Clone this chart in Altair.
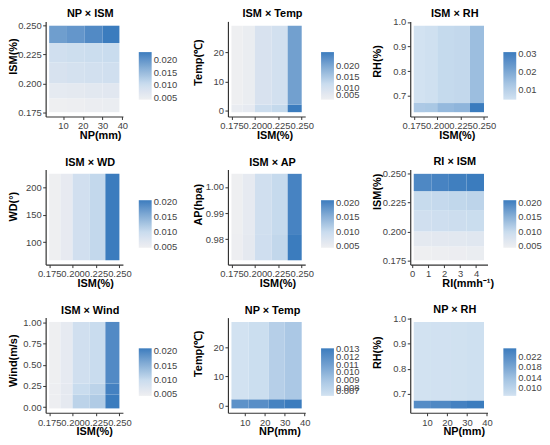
import altair as alt
import pandas as pd

FONT = "Liberation Sans"

# ---- bin edges (data ranges of each heat-map axis) ----
ISM_EDGES = [0.175, 0.187, 0.200, 0.218, 0.235, 0.250]
NP_EDGES = [3.0, 12.0, 21.0, 30.0, 38.5]
NP2_EDGES = [3.4, 12.0, 22.0, 30.0, 38.5]
TEMP_EDGES = [-0.4, 2.2, 29.0]
TEMP2_EDGES = [-0.9, 2.2, 28.6]
RH_EDGES = [0.634, 0.671, 0.985]
RH2_EDGES = [0.641, 0.673, 0.987]
WD_EDGES = [67.0, 225.0]
AP_EDGES = [0.972, 0.982, 1.005]
RI_EDGES = [0.1, 1.2, 2.3, 3.4, 4.5]
WIND_EDGES = [-0.016, 0.15, 0.28, 1.01]

# ---- cell values: rows listed bottom -> top, columns left -> right ----
NP_ISM = [
    [0.0043, 0.0046, 0.0048, 0.0050],
    [0.0060, 0.0063, 0.0066, 0.0068],
    [0.0085, 0.0090, 0.0093, 0.0095],
    [0.0095, 0.0100, 0.0103, 0.0106],
    [0.0190, 0.0200, 0.0215, 0.0233],
]
ISM_TEMP = [
    [0.0060, 0.0068, 0.0115, 0.0125, 0.0260],
    [0.0050, 0.0058, 0.0095, 0.0105, 0.0210],
]
ISM_RH = [
    [0.0120, 0.0125, 0.0160, 0.0170, 0.0310],
    [0.0045, 0.0050, 0.0070, 0.0075, 0.0150],
]
ISM_WD = [
    [0.0048, 0.0060, 0.0090, 0.0105, 0.0205],
]
ISM_AP = [
    [0.0047, 0.0060, 0.0092, 0.0105, 0.0208],
    [0.0045, 0.0058, 0.0090, 0.0102, 0.0200],
]
RI_ISM = [
    [0.0044, 0.0046, 0.0048, 0.0050],
    [0.0060, 0.0062, 0.0064, 0.0066],
    [0.0090, 0.0092, 0.0095, 0.0097],
    [0.0100, 0.0102, 0.0105, 0.0108],
    [0.0195, 0.0200, 0.0205, 0.0208],
]
ISM_WIND = [
    [0.0046, 0.0060, 0.0110, 0.0120, 0.0211],
    [0.0046, 0.0060, 0.0100, 0.0110, 0.0205],
    [0.0044, 0.0058, 0.0090, 0.0100, 0.0195],
]
NP_TEMP = [
    [0.0118, 0.0120, 0.0127, 0.0131],
    [0.0070, 0.0073, 0.0083, 0.0088],
]
NP_RH = [
    [0.0225, 0.0232, 0.0245, 0.0255],
    [0.0068, 0.0070, 0.0071, 0.0073],
]

# ---- tick labels ----
ISM_TICKS = [0.175, 0.200, 0.225, 0.250]
NP_TICKS = [10, 20, 30, 40]
TEMP_TICKS = [0, 10, 20]
RH_TICKS = [0.7, 0.8, 0.9, 1.0]
WD_TICKS = [100, 150, 200]
AP_TICKS = [0.98, 0.99, 1.00]
RI_TICKS = [0, 1, 2, 3, 4]
WIND_TICKS = [0.0, 0.25, 0.5, 0.75, 1.0]
LEG_A = [0.005, 0.010, 0.015, 0.020]
LEG_RH = [0.01, 0.02, 0.03]
LEG_NT = [0.007, 0.008, 0.009, 0.010, 0.011, 0.012, 0.013]
LEG_NR = [0.010, 0.014, 0.018, 0.022]

# colour ramps (low -> high)
RAMP_GRAY = ["#EEEFF1", "#C9DCEE", "#86AED6", "#3B7CBE"]
RAMP_BLUE = ["#D2E2F1", "#A6C5E3", "#6F9ECF", "#3B7CBE"]


def cells(xe, ye, vals):
    rows = []
    for j in range(len(ye) - 1):
        for i in range(len(xe) - 1):
            rows.append({"x": xe[i], "x2": xe[i + 1], "y": ye[j], "y2": ye[j + 1],
                         "v": vals[j][i]})
    return pd.DataFrame(rows)


def expand(edges):
    lo, hi = edges[0], edges[-1]
    d = (hi - lo) * 0.05
    return [lo - d, hi + d]


def stops(vals, n):
    flat = [v for r in vals for v in r]
    lo, hi = min(flat), max(flat)
    return [lo + (hi - lo) * k / (n - 1) for k in range(n)]


def panel(title, xe, ye, vals, xtitle, ytitle, xticks, yticks, xfmt, yfmt,
          legvals, legfmt, ramp, tx, ty, ytx, tdy=0):
    df = cells(xe, ye, vals)
    common = dict(labelOverlap=False, labelFlush=False, grid=False,
                  titleBaseline="middle", titleAlign="center")
    return alt.Chart(df).mark_rect().encode(
        x=alt.X("x:Q", scale=alt.Scale(domain=expand(xe), nice=False, zero=False),
                axis=alt.Axis(title=xtitle, values=xticks, format=xfmt,
                              titleX=tx, titleY=19, **common)),
        x2="x2:Q",
        y=alt.Y("y:Q", scale=alt.Scale(domain=expand(ye), nice=False, zero=False),
                axis=alt.Axis(title=ytitle, values=yticks, format=yfmt,
                              titleX=ytx, titleY=ty, titleAngle=270, **common)),
        y2="y2:Q",
        color=alt.Color("v:Q",
                        scale=alt.Scale(domain=stops(vals, len(ramp)), range=ramp,
                                        zero=False, nice=False),
                        legend=alt.Legend(title=None, orient="none", legendX=94,
                                          legendY=31, direction="vertical",
                                          gradientLength=48, gradientThickness=13,
                                          gradientStrokeWidth=0, values=legvals,
                                          format=legfmt, labelFontSize=9.5,
                                          labelColor="#444444", labelFont=FONT,
                                          labelOffset=2, labelOverlap=False)),
    ).properties(
        width=78, height=96,
        title=alt.TitleParams(text=title, fontSize=11, fontWeight="bold", font=FONT,
                              color="#000000", offset=2, frame="group", dx=6,
                              dy=tdy, anchor="middle"),
    )


p1 = panel("NP × ISM", NP_EDGES, ISM_EDGES, NP_ISM, "NP(mm)", "ISM(%)",
           NP_TICKS, ISM_TICKS, "d", ".3f", LEG_A, ".3f", RAMP_GRAY, 55, 35, -32)
p2 = panel("ISM × Temp", ISM_EDGES, TEMP_EDGES, ISM_TEMP, "ISM(%)", "Temp(℃)",
           ISM_TICKS, TEMP_TICKS, ".3f", "d", LEG_A, ".3f", RAMP_GRAY, 47, 41, -30)
p3 = panel("ISM × RH", ISM_EDGES, RH_EDGES, ISM_RH, "ISM(%)", "RH(%)",
           ISM_TICKS, RH_TICKS, ".3f", ".1f", LEG_RH, ".2f", RAMP_BLUE, 47, 40, -33,
           tdy=3.5)
p4 = panel("ISM × WD", ISM_EDGES, WD_EDGES, ISM_WD, "ISM(%)", "WD(°)",
           ISM_TICKS, WD_TICKS, ".3f", "d", LEG_A, ".3f", RAMP_GRAY, 50, 37, -32)
p5 = panel("ISM × AP", ISM_EDGES, AP_EDGES, ISM_AP, "ISM(%)", "AP(hpa)",
           ISM_TICKS, AP_TICKS, ".3f", ".2f", LEG_A, ".3f", RAMP_GRAY, 50, 35, -30)
p6 = panel("RI × ISM", RI_EDGES, ISM_EDGES, RI_ISM, "RI(mmh⁻¹)", "ISM(%)",
           RI_TICKS, ISM_TICKS, "d", ".3f", LEG_A, ".3f", RAMP_GRAY, 58, 22, -33)
p7 = panel("ISM × Wind", ISM_EDGES, WIND_EDGES, ISM_WIND, "ISM(%)", "Wind(m/s)",
           ISM_TICKS, WIND_TICKS, ".3f", ".2f", LEG_A, ".3f", RAMP_GRAY, 49, 43, -32)
p8 = panel("NP × Temp", NP2_EDGES, TEMP2_EDGES, NP_TEMP, "NP(mm)", "Temp(℃)",
           NP_TICKS, TEMP_TICKS, "d", "d", LEG_NT, ".3f", RAMP_BLUE, 52, 36, -30)
p9 = panel("NP × RH", NP2_EDGES, RH2_EDGES, NP_RH, "NP(mm)", "RH(%)",
           NP_TICKS, RH_TICKS, "d", ".1f", LEG_NR, ".3f", RAMP_BLUE, 54, 35, -33,
           tdy=3.1)

chart = alt.concat(
    p1, p2, p3, p4, p5, p6, p7, p8, p9,
    columns=3,
    spacing=alt.RowColnumber(row=53.5, column=106),
    bounds="flush",
).resolve_scale(
    color="independent"
).properties(
    padding={"left": 0, "top": -2.5, "right": 0, "bottom": 0},
    background="#FFFFFF",
).configure_view(
    strokeWidth=0
).configure_axis(
    labelFont=FONT, labelFontSize=9.5, labelColor="#444444", labelPadding=1.5,
    titleFont=FONT, titleFontSize=11, titleFontWeight="bold", titleColor="#000000",
    domainColor="#333333", domainWidth=1.2, tickColor="#333333", tickSize=3,
    tickWidth=1,
)

chart.save("out.html", embed_options={"renderer": "svg", "actions": False})
